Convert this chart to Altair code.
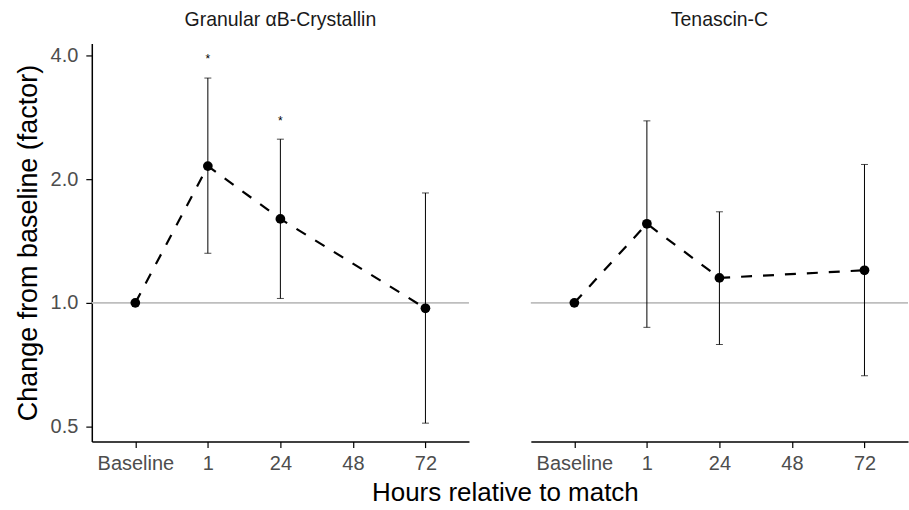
import altair as alt
import pandas as pd

FONT = "Liberation Sans"

hours = ["Baseline", "1", "24", "48", "72"]
panel_titles = ["Granular αB-Crystallin", "Tenascin-C"]

# Granular alphaB-Crystallin
cry_hours = ["Baseline", "1", "24", "72"]
cry_mean = [1.0, 2.15, 1.60, 0.97]
cry_err_hours = ["1", "24", "72"]
cry_lo = [1.32, 1.025, 0.51]
cry_hi = [3.52, 2.50, 1.85]
cry_star_hours = ["1", "24"]
cry_star_y = [3.94, 2.78]

# Tenascin-C
ten_hours = ["Baseline", "1", "24", "72"]
ten_mean = [1.0, 1.557, 1.15, 1.20]
ten_err_hours = ["1", "24", "72"]
ten_lo = [0.872, 0.792, 0.665]
ten_hi = [2.77, 1.665, 2.17]
ten_star_hours = []
ten_star_y = []

reference_value = [1.0]

W, H = 378, 399
x_scale = alt.Scale(type="point", domain=hours, padding=0.6)
y_scale = alt.Scale(type="log", base=2, domain=[0.46, 4.272], nice=False)

x_axis = alt.Axis(title=None, labelAngle=0, labelPadding=6)


def panel(title, h, m, eh, lo, hi, sh, sy, show_y):
    pts = pd.DataFrame({"hour": h, "value": m, "idx": list(range(len(h)))})
    err = pd.DataFrame({"hour": eh, "lo": lo, "hi": hi})
    ref = pd.DataFrame({"value": reference_value})
    if show_y:
        y_axis = alt.Axis(values=[0.5, 1, 2, 4], format=".1f",
                          title="Change from baseline (factor)")
    else:
        y_axis = None
    X = alt.X("hour:N", scale=x_scale, axis=x_axis)

    rule = alt.Chart(ref).mark_rule(color="#bebebe", strokeWidth=1.6).encode(
        y=alt.Y("value:Q", scale=y_scale, axis=y_axis)
    )
    bars = alt.Chart(err).mark_rule(color="black", strokeWidth=1).encode(
        x=X, y=alt.Y("lo:Q", scale=y_scale), y2="hi:Q"
    )
    cap_lo = alt.Chart(err).mark_tick(color="black", size=7, thickness=1,
                                       orient="horizontal").encode(
        x=X, y=alt.Y("lo:Q", scale=y_scale)
    )
    cap_hi = alt.Chart(err).mark_tick(color="black", size=7, thickness=1,
                                       orient="horizontal").encode(
        x=X, y=alt.Y("hi:Q", scale=y_scale)
    )
    line = alt.Chart(pts).mark_line(color="black", strokeWidth=2.2,
                                    strokeDash=[11, 11]).encode(
        x=X, y=alt.Y("value:Q", scale=y_scale), order="idx:Q"
    )
    dots = alt.Chart(pts).mark_circle(color="black", size=95, opacity=1).encode(
        x=X, y=alt.Y("value:Q", scale=y_scale)
    )
    layers = [rule, bars, cap_lo, cap_hi, line, dots]
    if len(sh) > 0:
        st = pd.DataFrame({"hour": sh, "y": sy})
        stars = alt.Chart(st).mark_text(text="*", fontSize=12, color="black",
                                        baseline="middle", dy=1).encode(
            x=X, y=alt.Y("y:Q", scale=y_scale)
        )
        layers.append(stars)
    return alt.layer(*layers).properties(
        width=W, height=H,
        title=alt.TitleParams(title, fontSize=19.5, font=FONT, color="#1a1a1a",
                              fontWeight="normal", anchor="middle",
                              frame="group", offset=13)
    )


left = panel(panel_titles[0], cry_hours, cry_mean, cry_err_hours, cry_lo,
             cry_hi, cry_star_hours, cry_star_y, True)
right = panel(panel_titles[1], ten_hours, ten_mean, ten_err_hours, ten_lo,
              ten_hi, ten_star_hours, ten_star_y, False)

chart = alt.hconcat(left, right, spacing=60).properties(
    title=alt.TitleParams("Hours relative to match", orient="bottom",
                          anchor="middle", fontSize=26, font=FONT,
                          color="black", fontWeight="normal", dx=44, offset=7),
    padding={"left": 14, "top": 9, "right": 0, "bottom": 0},
).configure_view(stroke=None).configure_axis(
    grid=False,
    labelFont=FONT, titleFont=FONT,
    labelFontSize=20, labelColor="#4d4d4d",
    titleFontSize=27, titleColor="black", titleFontWeight="normal",
    domainColor="black", domainWidth=1.5,
    tickColor="black", tickWidth=1.2, tickSize=6,
    labelPadding=8, titlePadding=8,
)

chart.save("out.html", embed_options={"renderer": "svg", "actions": False})
